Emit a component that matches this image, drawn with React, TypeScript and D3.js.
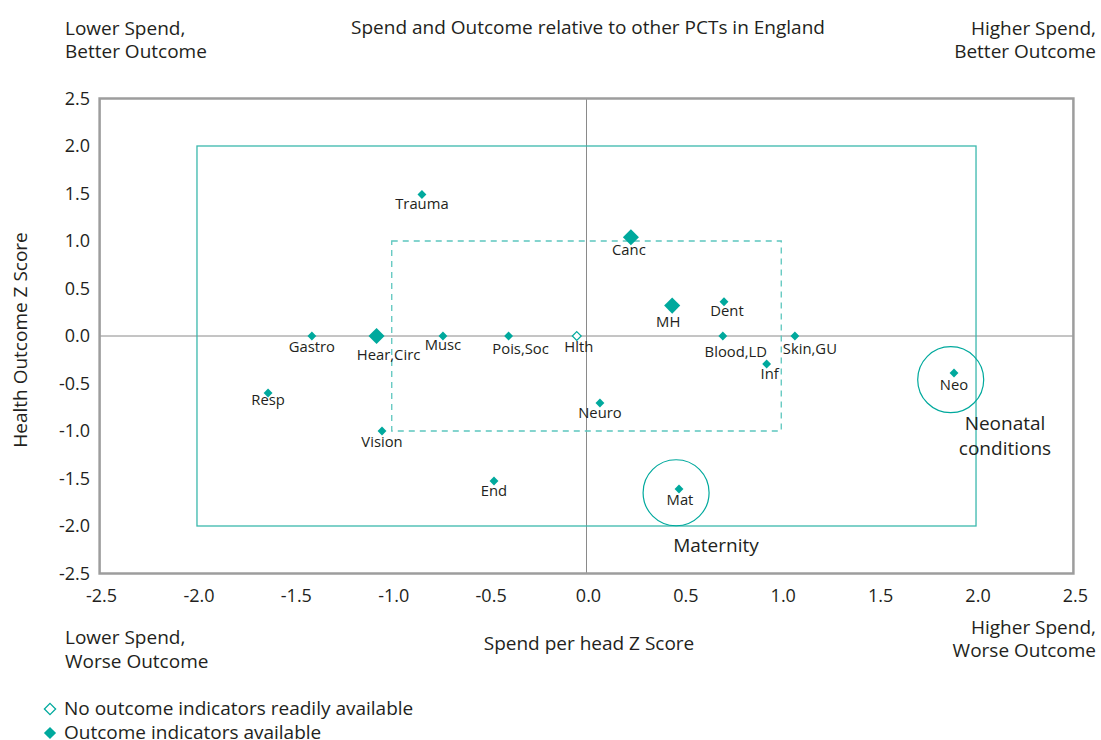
import React from "react";
import * as d3 from "d3";

const labels = ["Trauma", "Canc", "MH", "Dent", "Gastro", "Hear,Circ", "Musc", "Pois,Soc", "Hlth", "Blood,LD", "Skin,GU", "Inf", "Resp", "Neuro", "Vision", "End", "Mat", "Neo"];
const spendZ = [-0.845, 0.228, 0.44, 0.706, -1.41, -1.078, -0.737, -0.40, -0.05, 0.70, 1.07, 0.925, -1.635, 0.069, -1.05, -0.475, 0.475, 1.887];
const outcomeZ = [1.49, 1.04, 0.32, 0.36, 0, 0, 0, 0, 0, 0, 0, -0.295, -0.6, -0.705, -1.0, -1.526, -1.61, -0.39];
const hasOutcome = [true, true, true, true, true, true, true, true, false, true, true, true, true, true, true, true, true, true];
const isLarge = [false, true, true, false, false, true, false, false, false, false, false, false, false, false, false, false, false, false];
const ticks = [-2.5, -2.0, -1.5, -1.0, -0.5, 0.0, 0.5, 1.0, 1.5, 2.0, 2.5];
const outerBox = [-2, 2];
const innerBox = [-1, 1];
const highlightNames = ["Neonatal conditions", "Maternity"];
const highlightX = [1.87, 0.46];
const highlightY = [-0.46, -1.65];

const W = 1101, H = 740;
const TEAL = "#00a99d";
const FONT = "'Open Sans', 'Noto Sans', sans-serif";
const TXT = "#231f20";

export default function App() {
  const x = d3.scaleLinear().domain([-2.5, 2.5]).range([99.6, 1073.4]);
  const y = d3.scaleLinear().domain([-2.5, 2.5]).range([573.5, 98.5]);
  const diamond = (s: number) => d3.symbol().type(d3.symbolDiamond2).size(s)() as string;
  // label offsets relative to point
  const labelDy: Record<string, number> = {
    Trauma: 15, Canc: 18, MH: 21, Dent: 14, Gastro: 16, "Hear,Circ": 24, Musc: 14, "Pois,Soc": 18, Hlth: 16,
    "Blood,LD": 21, "Skin,GU": 18, Inf: 15, Resp: 12, Neuro: 15, Vision: 16, End: 15, Mat: 16, Neo: 17,
  };
  const labelDx: Record<string, number> = { "Hear,Circ": 12, "Pois,Soc": 12, MH: -4, Dent: 3, "Blood,LD": 13, "Skin,GU": 15, Inf: 3, Canc: -2, Hlth: 2, Mat: 1 };

  return (
    <svg width={W} height={H} style={{ display: "block", position: "absolute", left: 0, top: 0 }} fontFamily={FONT}>
      <rect x={0} y={0} width={W} height={H} fill="#fff" />
      {/* corner texts */}
      <g fill={TXT} fontSize={19}>
        <text x={65} y={35}>Lower Spend,</text>
        <text x={65} y={58}>Better Outcome</text>
        <text x={1096} y={35} textAnchor="end">Higher Spend,</text>
        <text x={1096} y={58} textAnchor="end">Better Outcome</text>
        <text x={588} y={34} textAnchor="middle">Spend and Outcome relative to other PCTs in England</text>
        <text x={65} y={644}>Lower Spend,</text>
        <text x={65} y={668}>Worse Outcome</text>
        <text x={1096} y={634} textAnchor="end">Higher Spend,</text>
        <text x={1096} y={657} textAnchor="end">Worse Outcome</text>
        <text x={589} y={650} textAnchor="middle">Spend per head Z Score</text>
        <text transform={`translate(27,${y(0) + 4}) rotate(-90)`} textAnchor="middle">Health Outcome Z Score</text>
      </g>
      {/* zero lines */}
      <line x1={x(-2.5)} x2={x(2.5)} y1={y(0)} y2={y(0)} stroke="#8a8a8a" strokeWidth={1} />
      <line x1={x(0)} x2={x(0)} y1={y(2.5)} y2={y(-2.5)} stroke="#8a8a8a" strokeWidth={1} />
      {/* outer & inner boxes */}
      <rect x={x(outerBox[0])} y={y(outerBox[1])} width={x(outerBox[1]) - x(outerBox[0])} height={y(outerBox[0]) - y(outerBox[1])} fill="none" stroke="#3bb8ad" strokeWidth={1.3} />
      <rect x={x(innerBox[0])} y={y(innerBox[1])} width={x(innerBox[1]) - x(innerBox[0])} height={y(innerBox[0]) - y(innerBox[1])} fill="none" stroke="#5cc6be" strokeWidth={1.3} strokeDasharray="6,5" />
      {/* frame */}
      <rect x={x(-2.5)} y={y(2.5)} width={x(2.5) - x(-2.5)} height={y(-2.5) - y(2.5)} fill="none" stroke="#9d9d9d" strokeWidth={2.5} />
      {/* ticks */}
      <g fill={TXT} fontSize={18}>
        {ticks.map((t) => (
          <text key={"y" + t} x={90} y={y(t) + 6} textAnchor="end">{t.toFixed(1)}</text>
        ))}
        {ticks.map((t) => (
          <text key={"x" + t} x={x(t) + 2} y={602} textAnchor="middle">{t.toFixed(1)}</text>
        ))}
      </g>
      {/* highlight circles */}
      {highlightX.map((hx, i) => (
        <circle key={"c" + i} cx={x(hx)} cy={y(highlightY[i])} r={33} fill="none" stroke={TEAL} strokeWidth={1.2} />
      ))}
      <g fill={TXT} fontSize={19}>
        <text x={1005} y={430} textAnchor="middle">Neonatal</text>
        <text x={1005} y={455} textAnchor="middle">conditions</text>
        <text x={716} y={552} textAnchor="middle">Maternity</text>
      </g>
      {/* points */}
      {labels.map((l, i) => {
        const px = x(spendZ[i]), py = y(outcomeZ[i]);
        const s = isLarge[i] ? 165 : 50;
        return (
          <g key={l}>
            <path d={diamond(s)} transform={`translate(${px},${py})`} fill={hasOutcome[i] ? TEAL : "#fff"} stroke={TEAL} strokeWidth={hasOutcome[i] ? 0 : 1.2} />
            <text x={px + (labelDx[l] ?? 0)} y={py + (labelDy[l] ?? 16)} textAnchor="middle" fontSize={14.8} fill={TXT}>{l}</text>
          </g>
        );
      })}
      {/* legend */}
      <g fontSize={19} fill={TXT}>
        <path d={diamond(80)} transform="translate(50,709)" fill="#fff" stroke={TEAL} strokeWidth={1.3} />
        <text x={64} y={715}>No outcome indicators readily available</text>
        <path d={diamond(95)} transform="translate(50,733)" fill={TEAL} />
        <text x={64} y={739}>Outcome indicators available</text>
      </g>
    </svg>
  );
}
